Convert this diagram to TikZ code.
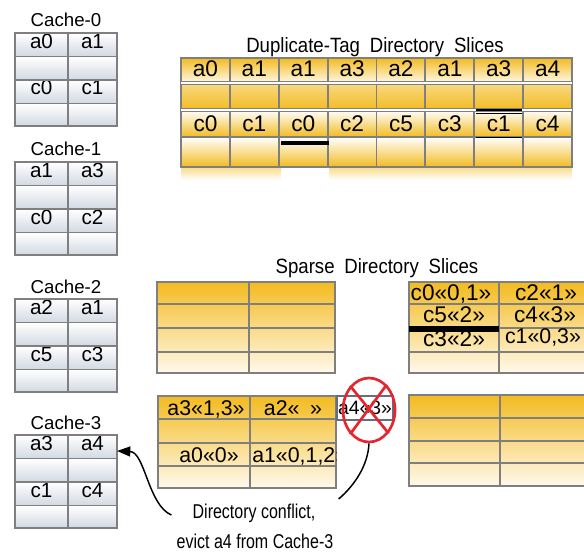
\documentclass[tikz,border=0pt]{standalone}
\usepackage{fontspec}
\setmainfont{Liberation Sans}
\newfontfamily\titlefont{Liberation Sans}[FakeStretch=0.9,WordSpace=1.9]
\newfontfamily\narrowfont{Liberation Sans}[FakeStretch=0.8]
\usetikzlibrary{arrows.meta,shapes.geometric}

\definecolor{dirorange}{HTML}{F3BB20}
\definecolor{dircream}{HTML}{FFF9EC}
\definecolor{cachegray}{HTML}{D2D9E3}
\definecolor{gridgray}{HTML}{7F7F7F}
\definecolor{nixred}{HTML}{E6262E}
\definecolor{boxblue}{HTML}{5F6F86}

\tikzset{
  gridline/.style={draw=gridgray, line width=1.4pt},
  dupline/.style={draw=gridgray, line width=0.7pt, double=white, double distance=1.4pt},
  cacheline/.style={draw=gridgray, line width=0.9pt},
  celltext/.style={font=\fontsize{15.5}{15.5}\selectfont, inner sep=0pt, anchor=base},
  dirtext/.style={font=\fontsize{17}{17}\selectfont, inner sep=0pt, anchor=base},
  sparsetext/.style={font=\fontsize{16}{16}\selectfont, inner sep=0pt, anchor=base},
  labeltext/.style={font=\fontsize{14}{14}\selectfont, inner sep=0pt, anchor=base},
  titletext/.style={font=\titlefont\fontsize{15.5}{15.5}\selectfont, inner sep=0pt, anchor=base},
  notetext/.style={font=\narrowfont\fontsize{15}{15}\selectfont, inner sep=0pt, anchor=base},
  bar/.style={draw=black},
}

\begin{document}
\begin{tikzpicture}[x=0.75pt, y=-0.75pt]
        \useasboundingbox (0,0) rectangle (584,552);

        % private caches
        \foreach \ytop/\n/\p/\q/\r/\s in {33/0/a0/a1/c0/c1, 162/1/a1/a3/c0/c2, 299/2/a2/a1/c5/c3, 435/3/a3/a4/c1/c4}{
          \foreach \ra/\rb in {0/23.5, 23.5/47, 47/70.5, 70.5/93}
            \shade[top color=white, bottom color=cachegray] (15,\ytop+\ra) rectangle (117,\ytop+\rb);
          \node[celltext] (cache\n-tl) at (41.5,\ytop+15.5) {\p};
          \node[celltext] (cache\n-tr) at (92.5,\ytop+15.5) {\q};
          \node[celltext] (cache\n-bl) at (41.5,\ytop+62) {\r};
          \node[celltext] (cache\n-br) at (92.5,\ytop+62) {\s};
          \draw[cacheline] (15,\ytop) rectangle (117,\ytop+93);
          \foreach \ra in {23.5, 47, 70.5}
            \draw[cacheline] (15,\ytop+\ra) -- (117,\ytop+\ra);
          \draw[cacheline] (68,\ytop) -- (68,\ytop+93);
          \node[labeltext] (cache\n) at (66,\ytop-6) {Cache-\n};
        }
        \coordinate (cache3tip) at (117,451);

        % duplicate-tag directory
        \node[titletext] (duptitle) at (375,53) {Duplicate-Tag Directory Slices};
        \foreach \ra/\rb/\ca/\cb in {58/83/dirorange/dircream, 83/110/dirorange!55/dirorange, 110/137/white/dirorange, 137/167/white/dirorange}
          \shade[top color=\ca, bottom color=\cb] (181,\ra) rectangle (572,\rb);
        \shade[top color=dirorange!45, bottom color=white] (181,169) rectangle (281,180);
        \shade[top color=dirorange!45, bottom color=white] (329,169) rectangle (572,180);
        \foreach \t [count=\i] in {a0,a1,a1,a3,a2,a1,a3,a4}
          \node[dirtext] (dup-a\i) at (181+\i*48.875-24.4,77) {\t};
        \foreach \t [count=\i] in {c0,c1,c0,c2,c5,c3,c1,c4}
          \node[dirtext] (dup-c\i) at (181+\i*48.875-24.4,132) {\t};
        \draw[gridline] (181,58) rectangle (572,167);
        \draw[gridline] (181,137) -- (572,137);
        \foreach \i in {1,...,7}
          \draw[gridline] (181+\i*48.875,58) -- (181+\i*48.875,167);
        \draw[dupline] (181,83) -- (572,83);
        \draw[dupline] (181,110) -- (572,110);
        \draw[bar, line width=3pt] (281,143) -- (329,143);
        \draw[bar, line width=1.1pt] (476,110) -- (522,110);
        \draw[bar, line width=1.1pt] (476,113.5) -- (522,113.5);
        \draw[bar, line width=1.1pt] (476,137.5) -- (522,137.5);

        % sparse directory
        \node[titletext] (sparsetitle) at (377,273) {Sparse Directory Slices};
        \foreach \xa/\xb/\xc/\ya/\yb/\yc/\yd/\ye in {157/249/335/282/304/328/352/373, 409/499/590/282/304/328/352/373, 158/250/336/396/419/443/466/488, 409/500/590/395/418/441/463/486}{
          \shade[top color=dirorange, bottom color=dircream] (\xa,\ya) rectangle (\xc,\ye);
          \draw[gridline] (\xa,\ya) rectangle (\xc,\ye);
          \foreach \yy in {\yb,\yc,\yd}
            \draw[gridline] (\xa,\yy) -- (\xc,\yy);
          \draw[gridline] (\xb,\ya) -- (\xb,\ye);
        }
        \node[dirtext] (sp-c0) at (451,300) {c0«0,1»};
        \node[dirtext] (sp-c2) at (546,300) {c2«1»};
        \node[dirtext] (sp-c5) at (454,322) {c5«2»};
        \node[dirtext] (sp-c4) at (545,322) {c4«3»};
        \node[dirtext] (sp-c3) at (454,346) {c3«2»};
        \node[sparsetext] (sp-c1) at (543,343) {c1«0,3»};
        \draw[bar, line width=4pt] (409,329) -- (499,329);

        \node[sparsetext] (sp-a3) at (206,415) {a3«1,3»};
        \node[sparsetext] (sp-a2) at (293,415) {a2«\hspace{8pt}»};
        \node[sparsetext] (sp-a0) at (209,462) {a0«0»};
        \begin{scope}
          \clip (250,443) rectangle (336,466);
          \node[sparsetext, anchor=base west] (sp-a1) at (252,462) {a1«0,1,2»};
        \end{scope}
        \node[draw=boxblue, fill=white, line width=0.8pt, minimum width=42pt, minimum height=18pt,
              inner sep=0pt, font=\fontsize{14.5}{14.5}\selectfont] (a4box) at (365,408) {a4«3»};
        \node[ellipse, draw=nixred, line width=2pt, minimum width=39pt, minimum height=48pt] (nix) at (369,410) {};
        \draw[nixred, line width=2pt] (nix.128) -- (nix.-50);
        \draw[nixred, line width=2pt] (nix.55) -- (nix.-128);

        % conflict note
        \node[notetext] (note1) at (254,518) {Directory conflict,};
        \node[notetext] (note2) at (255,548) {evict a4 from Cache-3};
        \draw[line width=1.1pt, -{Triangle[length=10pt,width=7.5pt]}] ([shift={(-21,-3)}]note1.base west)
          .. controls (148,505) and (145,452) .. (cache3tip);
        \draw[line width=1.1pt] ([shift={(23,-19)}]note1.base east)
          .. controls (355,485) and (368,465) .. (nix.south);
    \end{tikzpicture}
\end{document}
